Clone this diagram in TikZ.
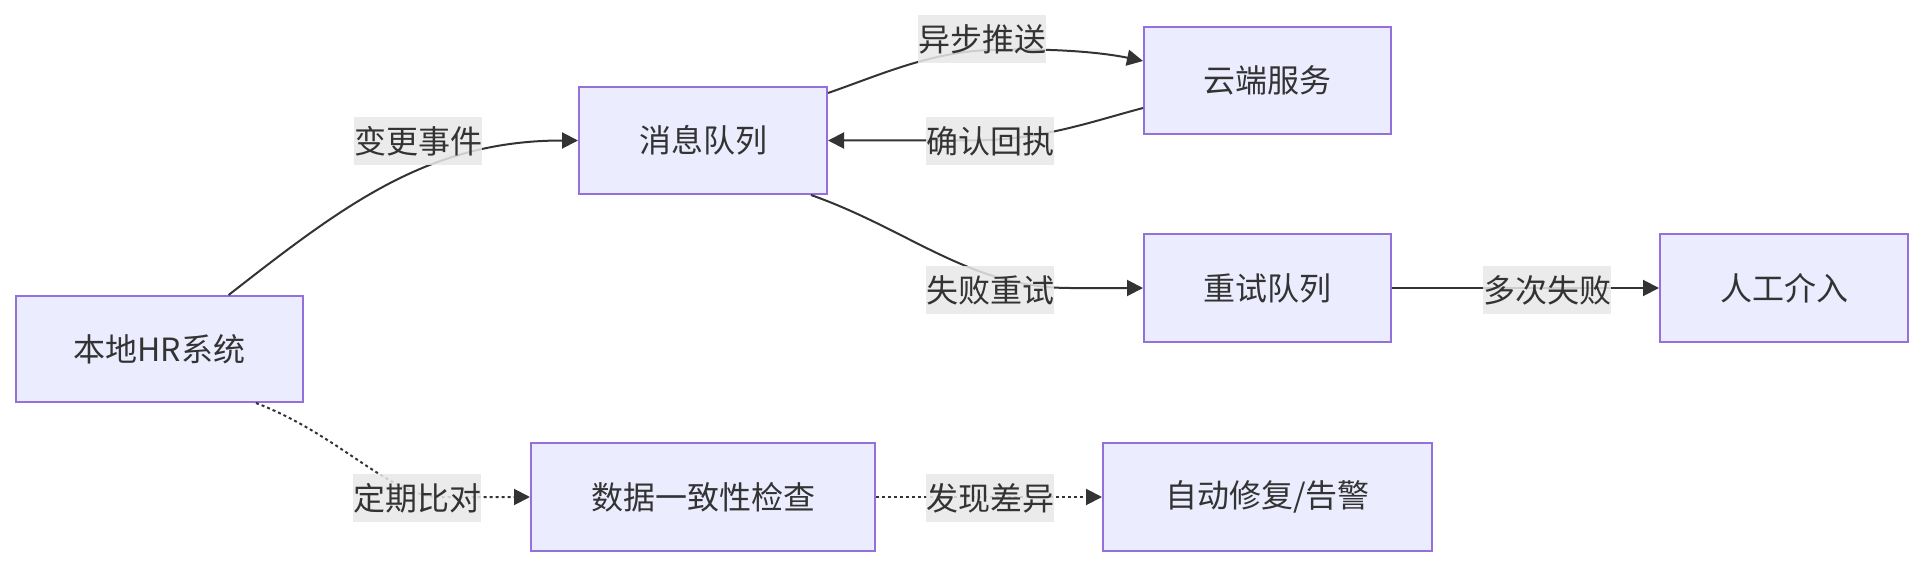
\documentclass[tikz,border=0pt]{standalone}
\usepackage{fontspec}
\setmainfont{Noto Sans CJK SC}
\usetikzlibrary{arrows.meta,calc}
\definecolor{nodefill}{HTML}{ECECFF}
\definecolor{nodeline}{HTML}{9370DB}
\definecolor{txt}{HTML}{333333}
\definecolor{lbl}{HTML}{E8E8E8}
\tikzset{
  box/.style={draw=nodeline, fill=nodefill, line width=1pt, inner sep=0pt,
    text=txt, font=\fontsize{16pt}{19pt}\selectfont},
  elabel/.style={fill=lbl, fill opacity=0.85, text opacity=1, text=txt, inner xsep=0pt,
    inner ysep=0pt, minimum height=24pt, font=\fontsize{16pt}{19pt}\selectfont},
  conn/.style={draw=txt, line width=1pt, -{Triangle[length=8pt,width=8pt]}},
  dotconn/.style={conn, dash pattern=on 1.5pt off 1.5pt},
}
\begin{document}
\begin{tikzpicture}[x=0.5pt,y=-0.5pt]
\useasboundingbox (0,0) rectangle (1924,567);
\node[box, minimum width=143.5pt, minimum height=53pt] (hr) at (159.5,349) {本地HR系统};
\node[box, minimum width=124pt, minimum height=53.5pt] (mq) at (703,140.5) {消息队列};
\node[box, minimum width=123.5pt, minimum height=53.5pt] (cloud) at (1267.5,80.5) {云端服务};
\node[box, minimum width=123.5pt, minimum height=54pt] (ret) at (1267.5,288) {重试队列};
\node[box, minimum width=124pt, minimum height=54pt] (man) at (1784,288) {人工介入};
\node[box, minimum width=172pt, minimum height=54pt] (chk) at (703,497) {数据一致性检查};
\node[box, minimum width=164.5pt, minimum height=54pt] (fix) at (1267.5,497) {自动修复/告警};

\draw[conn] (hr.38) to[out=38,in=180] (mq.west);
\draw[conn] ($(mq.north east)+(0,7)$) .. controls (880,75) and (930,52) .. (990,50)
  .. controls (1050,48) and (1100,52) .. ($(cloud.west)+(0,-19.5)$);
\draw[conn] ($(cloud.west)+(0,27.5)$) .. controls (1090,122) and (1040,140.5) .. (970,140.5) -- (mq.east);
\draw[conn] ($(mq.south east)+(-17,0)$) .. controls (910,230) and (970,288) .. (1070,288) -- (ret.west);
\draw[conn] (ret.east) -- (man.west);
\draw[dotconn] ($(hr.south)+(96.5,0)$) .. controls (340,435) and (390,497) .. (440,497) -- (chk.west);
\draw[dotconn] (chk.east) -- (fix.west);

\node[elabel] (l1) at (418,141) {变更事件};
\node[elabel] (l2) at (982,39.5) {异步推送};
\node[elabel] (l3) at (990,141.5) {确认回执};
\node[elabel] (l4) at (990,290) {失败重试};
\node[elabel] (l5) at (1547,290) {多次失败};
\node[elabel] (l6) at (417,498) {定期比对};
\node[elabel] (l7) at (990,498) {发现差异};
\end{tikzpicture}
\end{document}
